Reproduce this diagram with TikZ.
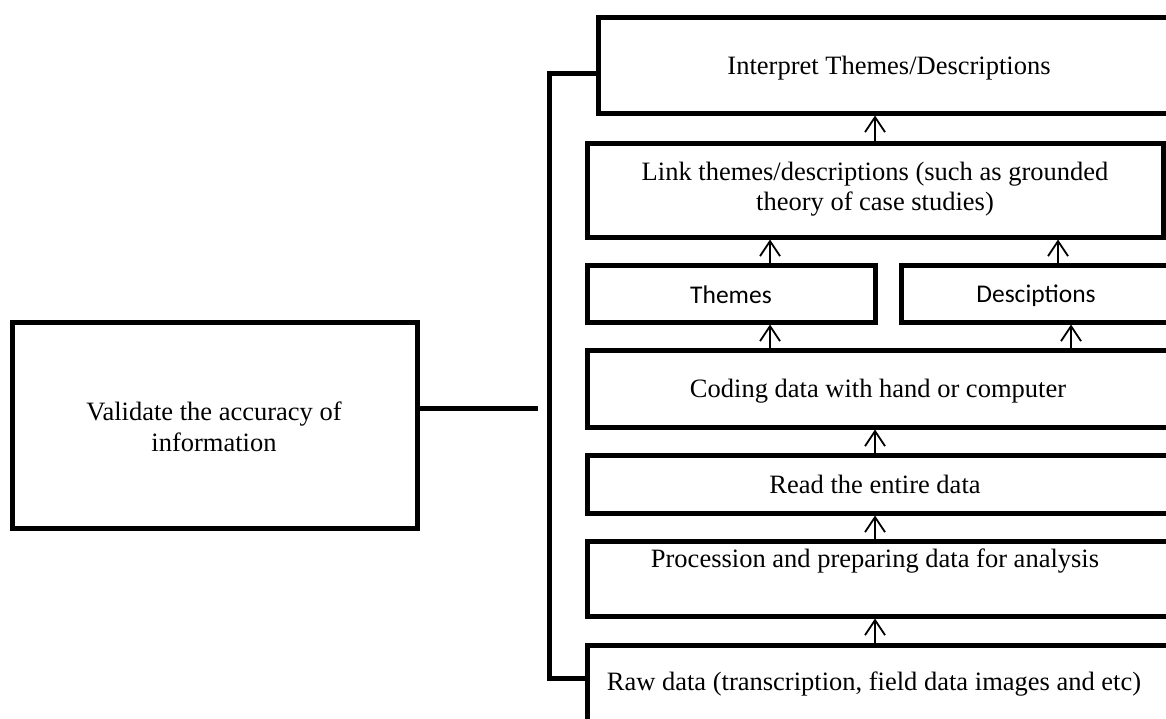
\documentclass[tikz,border=0pt]{standalone}
\usepackage{fontspec}
\setmainfont{Liberation Serif}
\newfontfamily\calibrifont{Carlito}
\usetikzlibrary{arrows.meta}
\tikzset{
  boxnode/.style={draw=black, line width=5pt, inner sep=0pt, fill=none},
  txt/.style={inner sep=0pt, align=center, font=\fontsize{26.5}{30.5}\selectfont},
  ctxt/.style={inner sep=0pt, align=center, font=\calibrifont\fontsize{25.5}{30}\selectfont},
  thickline/.style={line width=5pt, line join=miter},
  arr/.style={line width=1.8pt, -{Straight Barb[length=15pt,width=20pt]}}
}
\begin{document}
\begin{tikzpicture}[x=1pt,y=-1pt]
\clip (0,0) rectangle (1166,718);
\fill[white] (0,0) rectangle (1166,718);
% boxes
\node[boxnode, minimum width=405pt, minimum height=206pt] (val) at (214.5,425) {};
\node[boxnode, minimum width=587pt, minimum height=96pt] (top) at (891.5,65) {};
\node[boxnode, minimum width=576pt, minimum height=94pt] (link) at (875,190) {};
\node[boxnode, minimum width=288pt, minimum height=57pt] (themes) at (731,293.5) {};
\node[boxnode, minimum width=279pt, minimum height=57pt] (desc) at (1040.5,293.5) {};
\node[boxnode, minimum width=598pt, minimum height=77pt] (coding) at (886,388.5) {};
\node[boxnode, minimum width=598pt, minimum height=58pt] (read) at (886,484) {};
\node[boxnode, minimum width=598pt, minimum height=75pt] (proc) at (886,578.5) {};
\node[boxnode, minimum width=598pt, minimum height=100pt] (raw) at (886,695) {};
% texts
\node[txt] (valt) at (214,427) {Validate the accuracy of\\information};
\node[txt] (topt) at (889,68) {Interpret Themes/Descriptions};
\node[txt] (linkt) at (875,189) {Link themes/descriptions (such as grounded\\theory of case studies)};
\node[ctxt] (themest) at (731,295) {Themes};
\node[ctxt] (desct) at (1036,296) {Desciptions};
\node[txt] (codingt) at (878,391) {Coding data with hand or computer};
\node[txt] (readt) at (875,484) {Read the entire data};
\node[txt] (proct) at (875,561) {Procession and preparing data for analysis};
\node[txt] (rawt) at (874,684) {Raw data (transcription, field data images and etc)};
% connector and bracket
\coordinate (cend) at (538,408);
\coordinate (b1) at (549,73);
\coordinate (b2) at (549,678);
\draw[thickline] (val.east |- cend) -- (cend);
\draw[thickline] (top.west |- b1) -- (b1) -- (b2) -- (raw.west |- b2);
% arrow columns
\coordinate (ac) at (875,0);
\coordinate (at) at (770,0);
\coordinate (ad1) at (1058,0);
\coordinate (ad2) at (1071,0);
\draw[arr] (link.north -| ac) -- (top.south -| ac);
\draw[arr] (themes.north -| at) -- (link.south -| at);
\draw[arr] (desc.north -| ad1) -- (link.south -| ad1);
\draw[arr] (coding.north -| at) -- (themes.south -| at);
\draw[arr] (coding.north -| ad2) -- (desc.south -| ad2);
\draw[arr] (read.north -| ac) -- (coding.south -| ac);
\draw[arr] (proc.north -| ac) -- (read.south -| ac);
\draw[arr] (raw.north -| ac) -- (proc.south -| ac);
\end{tikzpicture}
\end{document}
